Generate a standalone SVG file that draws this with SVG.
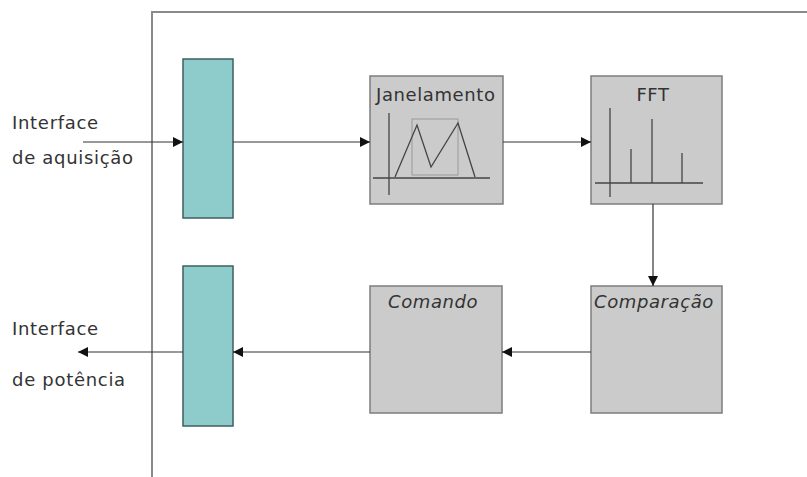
<svg xmlns="http://www.w3.org/2000/svg" width="807" height="477" viewBox="0 0 807 477">
  <defs>
    <marker id="arrow" viewBox="0 0 10 10" refX="10" refY="5" markerWidth="10" markerHeight="10" markerUnits="userSpaceOnUse" orient="auto">
      <path d="M0,0 L10,5 L0,10 z" fill="#111"/>
    </marker>
    <style>
      .frame { stroke: #8a8a8a; stroke-width: 2; fill: none; }
      .io { fill: #8ecccb; stroke: #3e5f5f; stroke-width: 1.5; }
      .block { fill: #cbcbcb; stroke: #7d7d7d; stroke-width: 1.5; }
      .conn { stroke: #333; stroke-width: 1.2; fill: none; }
      .sketch { stroke: #444; stroke-width: 1.3; fill: none; }
      .label { font-family: "Comic Sans MS", "DejaVu Sans", sans-serif; font-size: 18px; letter-spacing: 0.7px; fill: #333; }
      .title { font-family: "Comic Sans MS", "DejaVu Sans", sans-serif; font-size: 18px; letter-spacing: 0.6px; fill: #333; }
      .ital { font-style: italic; }
    </style>
  </defs>
  <rect width="807" height="477" fill="#ffffff"/>

  <!-- system boundary -->
  <path class="frame" d="M152,477 L152,12 L807,12"/>

  <!-- side labels -->
  <g id="input-label">
    <text class="label" x="12" y="129">Interface</text>
    <text class="label" x="12" y="164">de aquisição</text>
  </g>
  <g id="output-label">
    <text class="label" x="12" y="335">Interface</text>
    <text class="label" x="12" y="386">de potência</text>
  </g>

  <!-- interface blocks -->
  <g id="acquisition-port">
    <rect class="io" x="183" y="59" width="50" height="159"/>
  </g>
  <g id="power-port">
    <rect class="io" x="183" y="266" width="50" height="160"/>
  </g>

  <!-- windowing -->
  <g id="janelamento">
    <rect class="block" x="370" y="76" width="133" height="128"/>
    <text class="title" x="376" y="101">Janelamento</text>
    <rect x="412" y="119" width="46" height="56" fill="none" stroke="#9a9a9a" stroke-width="1"/>
    <line class="sketch" x1="389" y1="113" x2="389" y2="195"/>
    <line class="sketch" x1="373" y1="178" x2="490" y2="178"/>
    <polyline class="sketch" points="395,177 417,125 431,167 458,123 475,177"/>
  </g>

  <!-- spectrum -->
  <g id="fft">
    <rect class="block" x="591" y="76" width="131" height="128"/>
    <text class="title" x="653" y="101" text-anchor="middle">FFT</text>
    <line class="sketch" x1="610" y1="108" x2="610" y2="197"/>
    <line class="sketch" x1="595" y1="183" x2="703" y2="183"/>
    <line class="sketch" x1="631" y1="149" x2="631" y2="183"/>
    <line class="sketch" x1="652" y1="119" x2="652" y2="183"/>
    <line class="sketch" x1="682" y1="153" x2="682" y2="183"/>
  </g>

  <!-- comparison -->
  <g id="comparacao">
    <rect class="block" x="591" y="286" width="131" height="127"/>
    <text class="title ital" x="594" y="308">Comparação</text>
  </g>

  <!-- command -->
  <g id="comando">
    <rect class="block" x="370" y="286" width="132" height="127"/>
    <text class="title ital" x="388" y="308">Comando</text>
  </g>

  <!-- signal flow -->
  <g id="connectors">
    <line class="conn" x1="83" y1="142" x2="183" y2="142" marker-end="url(#arrow)"/>
    <line class="conn" x1="233" y1="142" x2="370" y2="142" marker-end="url(#arrow)"/>
    <line class="conn" x1="503" y1="142" x2="591" y2="142" marker-end="url(#arrow)"/>
    <line class="conn" x1="653" y1="204" x2="653" y2="286" marker-end="url(#arrow)"/>
    <line class="conn" x1="591" y1="352" x2="502" y2="352" marker-end="url(#arrow)"/>
    <line class="conn" x1="370" y1="352" x2="233" y2="352" marker-end="url(#arrow)"/>
    <line class="conn" x1="183" y1="352" x2="78" y2="352" marker-end="url(#arrow)"/>
  </g>
</svg>
